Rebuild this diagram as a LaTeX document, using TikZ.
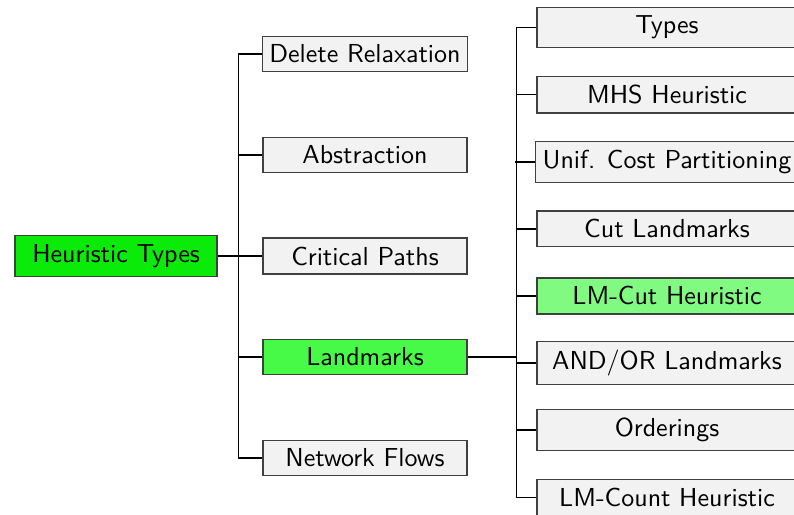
\documentclass[tikz,border=0pt]{standalone}
\usepackage{tikz}
\usetikzlibrary{positioning}
\definecolor{VerdeRaiz}{RGB}{10,235,10}
\definecolor{VerdeRama}{RGB}{72,250,72}
\definecolor{VerdeSuave}{RGB}{128,250,128}
\definecolor{GrisCaja}{RGB}{242,242,242}

\begin{document}
\begin{tikzpicture}[
  font=\sffamily,
  on grid,
  caja/.style={draw=black!75, line width=0.5pt, fill=GrisCaja, align=center, inner xsep=2.7pt,
    minimum width=27.57mm},
  hoja/.style={caja, minimum width=35.14mm},
  raiz/.style={caja, fill=VerdeRaiz, minimum width=27.3mm},
  rama/.style={caja, fill=VerdeRama},
  marca/.style={hoja, fill=VerdeSuave},
  linea/.style={line width=0.6pt, black},
]
\useasboundingbox (-15.68mm,-35.00mm) rectangle (91.63mm,34.60mm);

% --- Raiz ---
\node[raiz] (root) {Heuristic Types};

% --- Nivel 1 ---
\node[caja, right=33.65mm of root] (crit) {Critical Paths};
\node[caja, above=13.65mm of crit] (abs) {Abstraction};
\node[caja, above=13.65mm of abs] (del) {Delete Relaxation};
\node[rama, below=13.65mm of crit] (lm) {Landmarks};
\node[caja, below=13.65mm of lm] (net) {Network Flows};

% --- Nivel 2: bajo Landmarks ---
\node[hoja, above right=44.53mm and 40.82mm of lm] (types) {Types};
\node[hoja, below=9.07mm of types] (mhs) {MHS Heuristic};
\node[hoja, below=9.07mm of mhs] (ucp) {Unif. Cost Partitioning};
\node[hoja, below=9.07mm of ucp] (cut) {Cut Landmarks};
\node[marca, below=9.07mm of cut] (lmcut) {LM-Cut Heuristic};
\node[hoja, below=9.07mm of lmcut] (andor) {AND/OR Landmarks};
\node[hoja, below=9.07mm of andor] (ord) {Orderings};
\node[hoja, below=9.07mm of ord] (lmcount) {LM-Count Heuristic};

% --- Conectores ---
\draw[linea] (root) -- (crit);
\draw[linea] (del.west) -- ++(-3.11mm,0) |- (net.west);
\draw[linea] (abs.west) -- ++(-3.11mm,0);
\draw[linea] (lm.west) -- ++(-3.11mm,0);

\draw[linea] (lm.east) -- ([xshift=-2.7mm]lm.east -| types.west);
\draw[linea] (types.west) -- ++(-2.7mm,0) |- (lmcount.west);
\draw[linea] (mhs.west) -- ++(-2.7mm,0);
\draw[linea] (ucp.west) -- ++(-2.7mm,0);
\draw[linea] (cut.west) -- ++(-2.7mm,0);
\draw[linea] (lmcut.west) -- ++(-2.7mm,0);
\draw[linea] (andor.west) -- ++(-2.7mm,0);
\draw[linea] (ord.west) -- ++(-2.7mm,0);

\end{tikzpicture}
\end{document}
